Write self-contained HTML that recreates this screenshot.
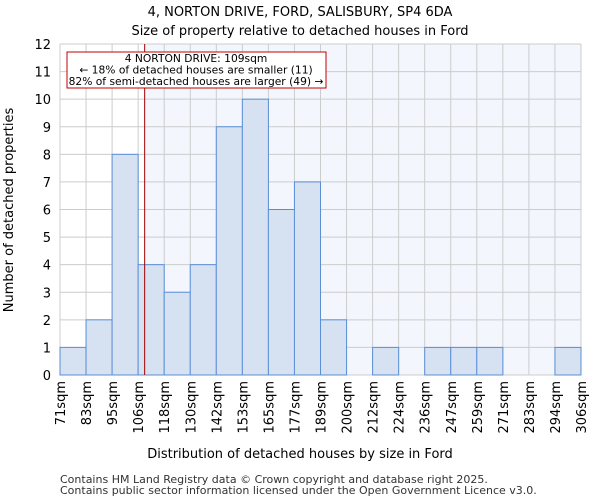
<!DOCTYPE html>
<html><head><meta charset="utf-8"><style>
body{margin:0;background:#fff;font-family:"DejaVu Sans","Liberation Sans",sans-serif;}
svg text{font-family:"DejaVu Sans","Liberation Sans",sans-serif;}
</style></head><body>
<svg id="c" width="600" height="500" xmlns="http://www.w3.org/2000/svg">
<text x="300" y="16" text-anchor="middle" font-size="13">4, NORTON DRIVE, FORD, SALISBURY, SP4 6DA</text>
<text x="300" y="35" text-anchor="middle" font-size="13">Size of property relative to detached houses in Ford</text>
<g id="plot"></g>
<text x="300" y="458" text-anchor="middle" font-size="13">Distribution of detached houses by size in Ford</text>
<text transform="translate(13,210) rotate(-90)" text-anchor="middle" font-size="13">Number of detached properties</text>
<text x="60" y="483" font-size="11" fill="#333">Contains HM Land Registry data © Crown copyright and database right 2025.</text>
<text x="60" y="494" font-size="11" fill="#333">Contains public sector information licensed under the Open Government Licence v3.0.</text>
</svg>
<script>
const categories=["71sqm","83sqm","95sqm","106sqm","118sqm","130sqm","142sqm","153sqm","165sqm","177sqm","189sqm","200sqm","212sqm","224sqm","236sqm","247sqm","259sqm","271sqm","283sqm","294sqm","306sqm"];
const counts=[1,2,8,4,3,4,9,10,6,7,2,0,1,0,1,1,1,0,0,1];
const yTicks=[0,1,2,3,4,5,6,7,8,9,10,11,12];
const markerBin=3.25;
const L=60,R=581,T=44,B=375,yMax=12;
const n=counts.length;
const xs=i=>L+(R-L)*i/n;
const ys=v=>B-(B-T)*v/yMax;
const NS="http://www.w3.org/2000/svg";
const g=document.getElementById('plot');
function mk(t,a,p){const e=document.createElementNS(NS,t);for(const k in a)e.setAttribute(k,a[k]);(p||g).appendChild(e);return e;}
const mx=xs(markerBin);
let e=mk('rect',{x:L,y:T,width:mx-L,height:B-T,fill:'#fff'});


e=mk('rect',{x:mx,y:T,width:R-mx,height:B-T,fill:'#f3f6fd'});


yTicks.forEach(v=>{const l=mk('line',{x1:L,x2:R,y1:ys(v),y2:ys(v),stroke:'#ccc'});


const t=mk('text',{x:L-9,y:ys(v)+5,'text-anchor':'end','font-size':13});t.textContent=v;

});
categories.forEach((c,i)=>{const l=mk('line',{x1:xs(i),x2:xs(i),y1:T,y2:B,stroke:'#ccc'});


const t=mk('text',{transform:`translate(${xs(i)+5},${B+6}) rotate(-90)`,'text-anchor':'end','font-size':13});t.textContent=c;

});
counts.forEach((v,i)=>{if(v<=0)return;const r=mk('rect',{x:xs(i),y:ys(v),width:xs(i+1)-xs(i),height:B-ys(v),fill:'#d6e1f2',stroke:'#5a8fd6','stroke-width':1});

});
e=mk('line',{x1:mx,x2:mx,y1:T,y2:B,stroke:'#a00000','stroke-width':1});


e=mk('rect',{x:67,y:52,width:259,height:36,fill:'#fff',stroke:'#c00000'});


["4 NORTON DRIVE: 109sqm","← 18% of detached houses are smaller (11)","82% of semi-detached houses are larger (49) →"].forEach((s,i)=>{const t=mk('text',{x:196,y:62+i*11.5,'text-anchor':'middle','font-size':10.7});t.textContent=s;

});
</script>
</body></html>
